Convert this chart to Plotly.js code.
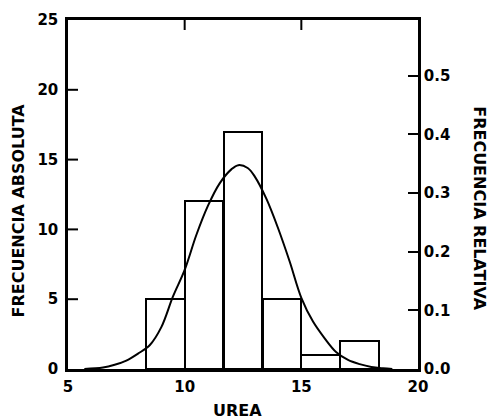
<!DOCTYPE html>
<html>
<head>
<meta charset="utf-8">
<script src="https://cdn.plot.ly/plotly-3.0.1.min.js"></script>
<style>html,body{margin:0;padding:0;background:#fff;}#chart{width:489px;height:419px;}</style>
</head>
<body>
<div id="chart"></div>
<script>
// Histogram data (UREA)
const binCenters = [9.17, 10.83, 12.5, 14.17, 15.83, 17.5];
const binWidth = 5 / 3;
const counts = [5, 12, 17, 5, 1, 2];
const totalN = 42;

// Fitted curve
const curveX = [5.7, 6.5, 7, 7.5, 8, 8.5, 9, 9.5, 10, 10.5, 11, 11.5, 12, 12.3, 12.7, 13, 13.5, 14, 14.5, 15, 15.5, 16, 16.5, 17, 17.5, 18, 18.5, 18.9];
const curveY = [0.0, 0.1, 0.3, 0.6, 1.1, 1.7, 3.0, 5.2, 7.1, 9.6, 11.7, 13.3, 14.3, 14.6, 14.4, 13.8, 12.2, 10.1, 7.7, 5.1, 3.4, 2.2, 1.2, 0.65, 0.35, 0.15, 0.05, 0.0];

const xTicks = [5, 10, 15, 20];
const yTicks = [0, 5, 10, 15, 20, 25];
const y2Ticks = [0.0, 0.1, 0.2, 0.3, 0.4, 0.5];
const xRange = [5, 20];
const yRange = [0, 25];

const W = 489, H = 419;
const M = {l: 68, r: 71, t: 20, b: 50};
const TICK = 10; // px
const tickDX = TICK / (W - M.l - M.r) * (xRange[1] - xRange[0]);
const tickDY = TICK / (H - M.t - M.b) * (yRange[1] - yRange[0]);

const fontFam = '"DejaVu Sans", "Liberation Sans", Arial, sans-serif';
const tickFont = {family: fontFam, size: 15, color: '#000', weight: 'bold'};
const titleFont = {family: fontFam, size: 16, color: '#000', weight: 'bold'};

// inward tick marks on the left and top edges, built from the tick arrays
const innerY = yTicks.filter(v => v > yRange[0] && v < yRange[1]);
const innerX = xTicks.filter(v => v > xRange[0] && v < xRange[1]);
const tickPathX = [], tickPathY = [];
innerY.forEach(v => { tickPathX.push(xRange[0], xRange[0] + tickDX, null); tickPathY.push(v, v, null); });
innerX.forEach(v => { tickPathX.push(v, v, null); tickPathY.push(yRange[1], yRange[1] - tickDY, null); });

const traces = [
  {
    type: 'bar', x: binCenters, y: counts, width: binCenters.map(() => binWidth),
    marker: {color: '#fff', line: {color: '#000', width: 2}},
    hoverinfo: 'skip', showlegend: false
  },
  {
    type: 'scatter', mode: 'lines', x: curveX, y: curveY,
    line: {color: '#000', width: 2, shape: 'spline'},
    hoverinfo: 'skip', showlegend: false
  },
  {
    type: 'scatter', mode: 'lines', x: tickPathX, y: tickPathY, connectgaps: false,
    line: {color: '#000', width: 2}, hoverinfo: 'skip', showlegend: false
  },
  // helper so the right-hand axis is drawn
  {type: 'scatter', mode: 'lines', x: xRange, y: [0, 0], yaxis: 'y2', line: {color: 'rgba(0,0,0,0)', width: 0}, hoverinfo: 'skip', showlegend: false}
];

const layout = {
  width: W, height: H,
  margin: M,
  paper_bgcolor: '#fff', plot_bgcolor: 'rgba(0,0,0,0)',
  showlegend: false,
  bargap: 0,
  xaxis: {
    range: xRange, tickvals: xTicks, ticktext: xTicks.map(String),
    ticks: '', showline: true, linecolor: '#000', linewidth: 2.5, mirror: true,
    showgrid: false, zeroline: false, tickfont: tickFont, ticklabelstandoff: 2
  },
  yaxis: {
    range: yRange, tickvals: yTicks, ticktext: yTicks.map(String),
    ticks: '', showline: true, linecolor: '#000', linewidth: 2.5,
    showgrid: false, zeroline: false, tickfont: tickFont, ticklabelstandoff: 4
  },
  yaxis2: {
    overlaying: 'y', side: 'right', anchor: 'x', range: [0, 25 / totalN],
    tickvals: y2Ticks, ticktext: y2Ticks.map(v => v.toFixed(1)),
    ticks: 'inside', ticklen: TICK, tickwidth: 2, tickcolor: '#000',
    showline: true, linecolor: '#000', linewidth: 2.5,
    showgrid: false, zeroline: false, tickfont: tickFont
  },
  annotations: [
    {text: 'UREA', xref: 'paper', yref: 'paper', x: 0.485, y: -0.12, xanchor: 'center', yanchor: 'middle', showarrow: false, font: titleFont},
    {text: 'FRECUENCIA ABSOLUTA', xref: 'paper', yref: 'paper', x: -0.142, y: 0.455, xanchor: 'center', yanchor: 'middle', textangle: -90, showarrow: false, font: titleFont},
    {text: 'FRECUENCIA RELATIVA', xref: 'paper', yref: 'paper', x: 1.175, y: 0.46, xanchor: 'center', yanchor: 'middle', textangle: 90, showarrow: false, font: titleFont}
  ]
};

Plotly.newPlot('chart', traces, layout, {displayModeBar: false});
</script>
</body>
</html>
